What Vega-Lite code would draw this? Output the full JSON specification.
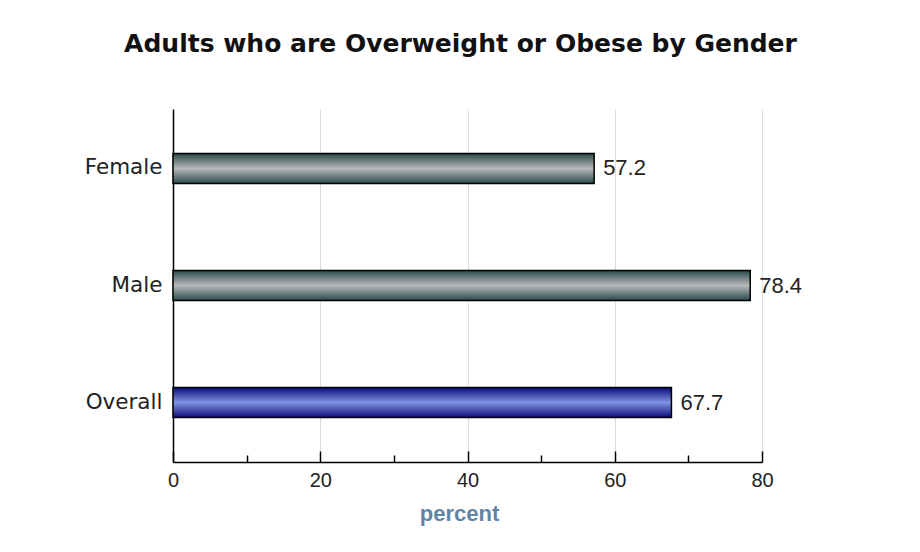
{
  "$schema": "https://vega.github.io/schema/vega-lite/v6.json",
  "width": 589,
  "height": 353,
  "autosize": {"type": "none"},
  "padding": {"left": 173, "top": 109, "right": 158, "bottom": 90},
  "background": "white",
  "config": {"view": {"stroke": null}},
  "title": {
    "text": "Adults who are Overweight or Obese by Gender",
    "font": "DejaVu Sans",
    "fontSize": 25,
    "fontWeight": "bold",
    "color": "#111111",
    "anchor": "middle",
    "frame": "group",
    "dx": -7,
    "offset": 52
  },
  "data": {
    "values": [
      {"group": "Female", "percent": 57.2},
      {"group": "Male", "percent": 78.4},
      {"group": "Overall", "percent": 67.7}
    ]
  },
  "encoding": {
    "y": {
      "field": "group",
      "type": "nominal",
      "sort": ["Female", "Male", "Overall"],
      "scale": {"paddingInner": 0.744, "paddingOuter": 0.38},
      "axis": {
        "title": null,
        "ticks": false,
        "domainColor": "#000000",
        "domainWidth": 1.5,
        "labelFont": "DejaVu Sans",
        "labelFontSize": 21.5,
        "labelColor": "#222222",
        "labelPadding": 11
      }
    },
    "x": {
      "field": "percent",
      "type": "quantitative",
      "scale": {"domain": [0, 80], "nice": false},
      "axis": {
        "title": "percent",
        "titleFont": "Liberation Sans",
        "titleFontSize": 22,
        "titleFontWeight": "bold",
        "titleColor": "#5f84a6",
        "titleX": 286,
        "titleAlign": "center",
        "titlePadding": 13,
        "values": [0, 10, 20, 30, 40, 50, 60, 70, 80],
        "labelExpr": "datum.value % 20 === 0 ? datum.label : ''",
        "labelFlush": false,
        "labelFont": "Liberation Sans",
        "labelFontSize": 20,
        "labelColor": "#222222",
        "labelPadding": 19,
        "domainColor": "#000000",
        "domainWidth": 1.5,
        "tickColor": "#000000",
        "tickWidth": 1.5,
        "tickSize": {"condition": {"test": "datum.value % 20 === 0", "value": -11}, "value": -7},
        "grid": true,
        "gridColor": "#dddddd",
        "gridWidth": 1,
        "gridOpacity": {"condition": {"test": "datum.value % 20 === 0 && datum.value > 0", "value": 1}, "value": 0}
      }
    }
  },
  "layer": [
    {
      "mark": {"type": "bar", "stroke": "#000000", "strokeWidth": 1.5, "orient": "horizontal"},
      "encoding": {
        "color": {
          "condition": {
            "test": "datum.group === 'Overall'",
            "value": {
              "gradient": "linear", "x1": 0, "y1": 0, "x2": 0, "y2": 1,
              "stops": [
                {"offset": 0, "color": "#0b0b7a"},
                {"offset": 0.5, "color": "#7f93e2"},
                {"offset": 1, "color": "#0b0b7a"}
              ]
            }
          },
          "value": {
            "gradient": "linear", "x1": 0, "y1": 0, "x2": 0, "y2": 1,
            "stops": [
              {"offset": 0, "color": "#2b4a4c"},
              {"offset": 0.5, "color": "#b6b8b8"},
              {"offset": 1, "color": "#2b4a4c"}
            ]
          }
        }
      }
    },
    {
      "mark": {"type": "text", "align": "left", "baseline": "middle", "dx": 9, "font": "Liberation Sans", "fontSize": 22, "color": "#222222"},
      "encoding": {
        "text": {"field": "percent", "type": "quantitative", "format": ".1f"}
      }
    }
  ]
}
